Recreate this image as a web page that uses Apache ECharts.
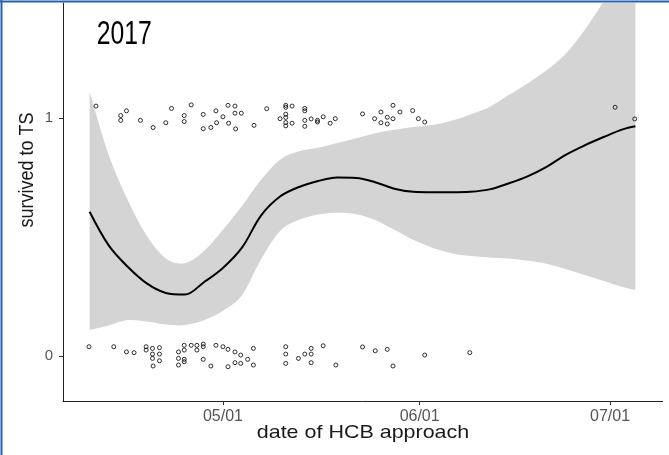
<!DOCTYPE html>
<html>
<head>
<meta charset="utf-8">
<script src="https://cdn.jsdelivr.net/npm/echarts@6/dist/echarts.min.js"></script>
<style>
html,body{margin:0;padding:0;background:#fff;}
#chart{width:669px;height:455px;}
</style>
</head>
<body>
<div id="chart"></div>
<script>
// x values are days after 2017-04-01 (04/01 = 0)
var smoothDay = [9,12,15,18,21,24,27,30,33,36,39,42,45,48,51,54,57,60,63,66,69,72,75,78,81,84,87,90,93,95];
var fitValue  = [0.606,0.465,0.375,0.305,0.265,0.258,0.31,0.37,0.455,0.59,0.67,0.71,0.735,0.75,0.748,0.73,0.703,0.69,0.688,0.688,0.69,0.70,0.725,0.755,0.795,0.845,0.885,0.92,0.952,0.965];
var ciUpper   = [1.11,0.845,0.655,0.505,0.41,0.39,0.44,0.53,0.63,0.74,0.825,0.86,0.875,0.895,0.915,0.936,0.95,0.962,0.97,0.988,1.015,1.046,1.095,1.145,1.20,1.27,1.37,1.49,1.62,1.75];
var ciLower   = [0.109,0.128,0.151,0.145,0.132,0.13,0.15,0.19,0.255,0.405,0.525,0.572,0.595,0.602,0.596,0.571,0.53,0.488,0.455,0.432,0.42,0.414,0.41,0.40,0.388,0.366,0.34,0.315,0.29,0.277];

// jittered observations: [day, survived (jittered)]
var survivedPoints = [
[10.0,1.05],[13.9,1.01],[13.9,0.99],[14.8,1.03],[17.0,0.99],[19.0,0.96],[21.0,0.98],[21.9,1.04],
[23.9,1.01],[23.9,0.985],[25.0,1.055],[26.9,1.015],[26.9,0.955],[28.1,0.96],[28.9,1.03],[29.0,0.98],
[30.0,1.005],[30.8,1.053],[30.9,0.978],[31.9,1.05],[31.9,1.02],[32.9,1.02],[32.0,0.954],[34.9,0.969],
[36.9,1.039],[39.0,0.997],[39.9,1.053],[39.9,1.045],[39.9,1.016],[39.9,1.002],[39.9,0.981],[39.9,0.967],
[40.9,1.05],[40.9,0.978],[42.9,1.04],[42.9,1.03],[42.9,0.99],[42.9,0.965],[43.9,0.996],[44.9,0.99],
[44.9,0.983],[45.8,1.005],[46.9,0.978],[47.7,0.997],[52.0,1.017],[53.9,0.997],[54.9,1.025],[54.9,0.98],
[55.9,1.003],[55.9,0.975],[56.8,1.053],[56.8,0.997],[57.9,1.025],[59.9,1.031],[60.8,0.997],[61.8,0.983],
[91.8,1.045],[94.9,0.996]
];
var diedPoints = [
[8.9,0.039],[12.8,0.039],[14.8,0.017],[16.0,0.014],[17.9,0.039],[17.9,0.025],[18.9,0.032],[20.0,0.035],
[18.9,0.008],[20.0,0.008],[18.9,-0.01],[20.0,-0.02],[19.0,-0.042],[23.0,0.017],[23.9,0.025],[23.9,0.045],
[23.0,-0.01],[23.9,-0.014],[23.9,-0.024],[23.0,-0.038],[25.0,0.045],[25.9,0.045],[25.9,0.025],[26.9,0.05],
[26.9,0.039],[26.9,-0.014],[28.1,-0.042],[28.9,0.045],[30.0,0.039],[30.8,0.028],[31.9,0.017],[32.8,0.004],
[33.9,-0.014],[34.8,0.032],[34.8,-0.038],[31.9,-0.028],[32.8,-0.031],[30.8,-0.045],[39.9,0.039],[39.9,0.008],
[39.9,-0.031],[41.9,-0.01],[42.9,0.008],[43.9,0.008],[43.9,0.032],[43.9,-0.028],[45.8,0.043],[47.8,-0.038],
[52.0,0.038],[54.0,0.022],[55.9,0.028],[56.8,-0.042],[61.8,0.004],[68.9,0.014]
];

var xTickDays = [30, 61, 91];
var xTickLabels = ['05/01', '06/01', '07/01'];
var yTickValues = [0, 1];
var yTickLabels = ['0', '1'];

var titleText = '2017';
var xTitle = 'date of HCB approach';
var yTitle = 'survived to TS';

function pairs(xs, ys) { return xs.map(function (x, i) { return [x, ys[i]]; }); }

// Catmull-Rom spline through screen points -> SVG cubic segments
function splineSegs(p) {
  var s = '';
  for (var i = 0; i < p.length - 1; i++) {
    var p0 = p[Math.max(i - 1, 0)], p1 = p[i], p2 = p[i + 1], p3 = p[Math.min(i + 2, p.length - 1)];
    var c1x = p1[0] + (p2[0] - p0[0]) / 6, c1y = p1[1] + (p2[1] - p0[1]) / 6;
    var c2x = p2[0] - (p3[0] - p1[0]) / 6, c2y = p2[1] - (p3[1] - p1[1]) / 6;
    s += ' C' + c1x.toFixed(2) + ',' + c1y.toFixed(2) + ' ' + c2x.toFixed(2) + ',' + c2y.toFixed(2) + ' ' + p2[0].toFixed(2) + ',' + p2[1].toFixed(2);
  }
  return s;
}

var chart = echarts.init(document.getElementById('chart'), null, {renderer: 'canvas'});
var pointStyle = {color: 'rgba(0,0,0,0)', borderColor: '#000', borderWidth: 1};
chart.setOption({
  animation: false,
  backgroundColor: '#fff',
  grid: {left: 63, right: 6.3, top: 3, bottom: 54, containLabel: false},
  xAxis: {
    type: 'value', min: 4.8, max: 99.3,
    splitLine: {show: false},
    axisLine: {show: true, onZero: false, lineStyle: {color: '#222', width: 1}},
    axisTick: {show: true, length: 4, customValues: xTickDays, lineStyle: {color: '#333'}},
    axisLabel: {
      customValues: xTickDays, margin: 8, color: '#555', fontSize: 16,
      fontFamily: 'Liberation Sans, Arial, sans-serif',
      formatter: function (v) { var i = xTickDays.indexOf(v); return i >= 0 ? xTickLabels[i] : ''; }
    }
  },
  yAxis: {
    type: 'value', min: -0.189, max: 1.483,
    splitLine: {show: false},
    axisLine: {show: true, onZero: false, lineStyle: {color: '#222', width: 1}},
    axisTick: {show: true, length: 4, customValues: yTickValues, lineStyle: {color: '#333'}},
    axisLabel: {
      customValues: yTickValues, margin: 10, color: '#555', fontSize: 15,
      fontFamily: 'Liberation Sans, Arial, sans-serif',
      formatter: function (v) { var i = yTickValues.indexOf(v); return i >= 0 ? yTickLabels[i] : ''; }
    }
  },
  series: [
    {
      type: 'custom', clip: true, silent: true, z: 1,
      data: [0],
      renderItem: function (params, api) {
        var up = smoothDay.map(function (d, i) { return api.coord([d, ciUpper[i]]); });
        var lo = smoothDay.map(function (d, i) { return api.coord([d, ciLower[i]]); }).reverse();
        var path = 'M' + up[0][0].toFixed(2) + ',' + up[0][1].toFixed(2) + splineSegs(up) +
                   ' L' + lo[0][0].toFixed(2) + ',' + lo[0][1].toFixed(2) + splineSegs(lo) + ' Z';
        return {
          type: 'path',
          shape: {pathData: path},
          style: {fill: '#d4d4d4', stroke: null}
        };
      }
    },
    {type: 'line', data: pairs(smoothDay, fitValue), symbol: 'none', smooth: 0.35,
     lineStyle: {color: '#000', width: 2}, z: 3},
    {type: 'scatter', data: survivedPoints, symbol: 'circle', symbolSize: 4, itemStyle: pointStyle, z: 4},
    {type: 'scatter', data: diedPoints, symbol: 'circle', symbolSize: 4, itemStyle: pointStyle, z: 4}
  ],
  graphic: [
    {type: 'line', shape: {x1: 0, y1: 1.5, x2: 669, y2: 1.5}, style: {stroke: '#2563a8', lineWidth: 2}, z: 100},
    {type: 'line', shape: {x1: 1.5, y1: 0, x2: 1.5, y2: 455}, style: {stroke: '#2563a8', lineWidth: 2}, z: 100},
    {type: 'text', x: 96.7, y: 35, scaleX: 0.75,
     style: {text: titleText, fontSize: 33, fontFamily: 'Liberation Sans, Arial, sans-serif', fill: '#000', align: 'left', verticalAlign: 'middle'}, z: 50},
    {type: 'text', x: 363, y: 433, scaleX: 1.13,
     style: {text: xTitle, fontSize: 19, fontFamily: 'Liberation Sans, Arial, sans-serif', fill: '#1a1a1a', align: 'center', verticalAlign: 'middle'}, z: 50},
    {type: 'text', x: 27, y: 170, rotation: Math.PI / 2, scaleY: 1.13,
     style: {text: yTitle, fontSize: 18, fontFamily: 'Liberation Sans, Arial, sans-serif', fill: '#1a1a1a', align: 'center', verticalAlign: 'middle'}, z: 50}
  ]
});
</script>
</body>
</html>
